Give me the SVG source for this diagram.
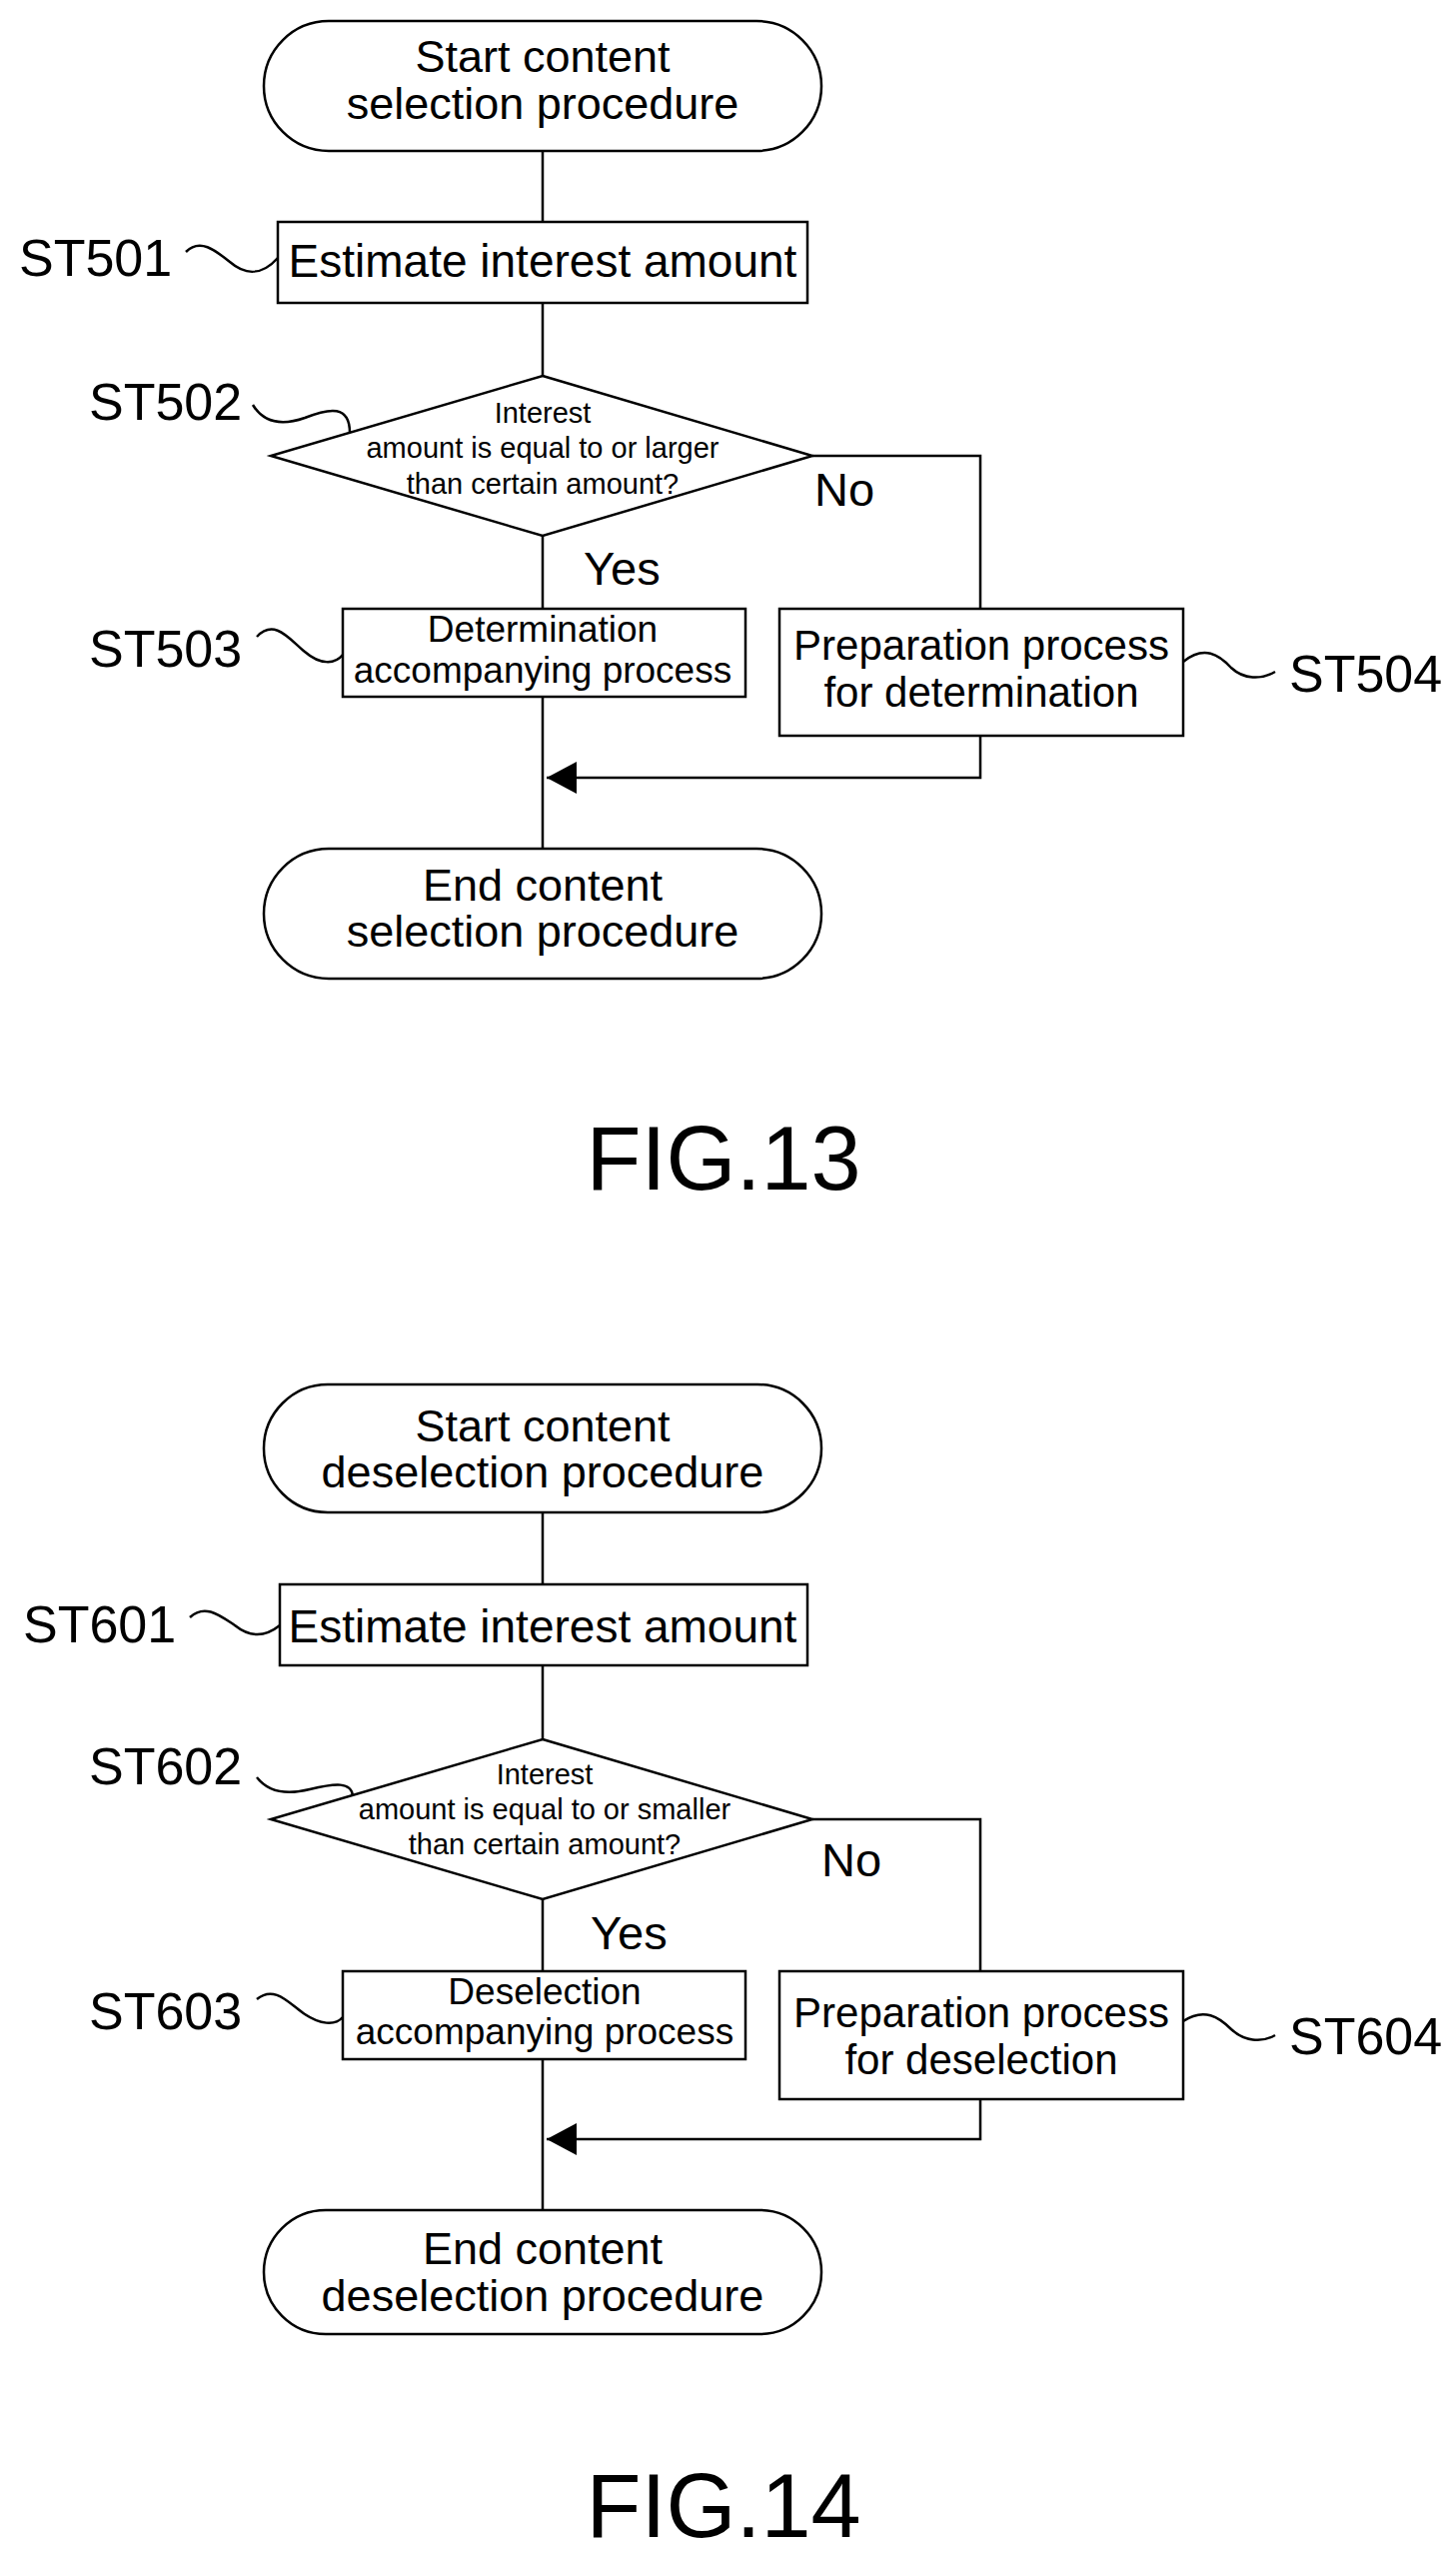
<svg xmlns="http://www.w3.org/2000/svg" width="1457" height="2560" viewBox="0 0 1457 2560">
<style>
.s{fill:none;stroke:#000;stroke-width:2.5}
.n{fill:#fff;stroke:#000;stroke-width:2.5}
text{font-family:"Liberation Sans",Arial,sans-serif;fill:#000;text-anchor:middle}
.t{font-size:45px}.b{font-size:46px}.p{font-size:42px}.a{font-size:37px}.d{font-size:29px}.l{font-size:52px;text-anchor:start}.y{font-size:47px;text-anchor:start}.f{font-size:90px}
</style>
<rect width="1457" height="2560" fill="#fff"/>
<g id="connectors">
<path class="s" d="M543,151 V222 M543,303 V376 M543,536 V609 M543,697 V849 M813,456 H981 V609 M981,736 V778 H547"/>
<path d="M547,778 L577,762 L577,794 Z" fill="#000"/>
<path class="s" d="M543,1513 V1585 M543,1666 V1740 M543,1900 V1972 M543,2060 V2211 M813,1820 H981 V1972 M981,2100 V2140 H547"/>
<path d="M547,2140 L577,2124 L577,2156 Z" fill="#000"/>
<g class="s" stroke-width="1.5">
<path d="M186,252 C200,238 215,250 230,262 C245,275 262,276 278,258"/>
<path d="M253,405 C265,425 285,425 305,418 C330,408 350,405 350,433"/>
<path d="M257,637 C275,618 290,640 305,652 C320,665 335,665 343,655"/>
<path d="M1184,662 C1205,645 1220,655 1232,668 C1245,680 1262,680 1276,672"/>
<path d="M190,1618 C205,1604 220,1616 235,1626 C250,1638 265,1638 280,1626"/>
<path d="M257,1778 C270,1795 290,1795 310,1790 C335,1784 352,1782 353,1797"/>
<path d="M257,2000 C275,1985 290,2005 305,2015 C320,2025 335,2027 343,2018"/>
<path d="M1184,2022 C1205,2008 1220,2018 1232,2030 C1245,2042 1262,2044 1276,2036"/>
</g>
</g>
<g id="start13"><rect class="n" x="264" y="21" width="558" height="130" rx="65"/><text class="t" x="543" y="72">Start content</text><text class="t" x="543" y="119">selection procedure</text></g>
<g id="st501"><rect class="n" x="278" y="222" width="530" height="81"/><text class="b" x="543" y="277">Estimate interest amount</text><text class="l" x="19" y="276">ST501</text></g>
<g id="st502"><path class="n" d="M543,376 L813,456 L543,536 L271,456 Z"/><text class="d" x="543" y="423">Interest</text><text class="d" x="543" y="458">amount is equal to or larger</text><text class="d" x="543" y="494">than certain amount?</text><text class="l" x="89" y="420">ST502</text></g>
<text class="y" x="815" y="506">No</text><text class="y" x="584" y="585">Yes</text>
<g id="st503"><rect class="n" x="343" y="609" width="403" height="88"/><text class="a" x="543" y="642">Determination</text><text class="a" x="543" y="683">accompanying process</text><text class="l" x="89" y="667">ST503</text></g>
<g id="st504"><rect class="n" x="780" y="609" width="404" height="127"/><text class="p" x="982" y="660">Preparation process</text><text class="p" x="982" y="707">for determination</text><text class="l" x="1290" y="692">ST504</text></g>
<g id="end13"><rect class="n" x="264" y="849" width="558" height="130" rx="65"/><text class="t" x="543" y="901">End content</text><text class="t" x="543" y="947">selection procedure</text></g>
<text class="f" x="724" y="1190">FIG.13</text>

<g id="start14"><rect class="n" x="264" y="1385" width="558" height="128" rx="64"/><text class="t" x="543" y="1442">Start content</text><text class="t" x="543" y="1488">deselection procedure</text></g>
<g id="st601"><rect class="n" x="280" y="1585" width="528" height="81"/><text class="b" x="543" y="1643">Estimate interest amount</text><text class="l" x="23" y="1643">ST601</text></g>
<g id="st602"><path class="n" d="M543,1740 L813,1820 L543,1900 L271,1820 Z"/><text class="d" x="545" y="1785">Interest</text><text class="d" x="545" y="1820">amount is equal to or smaller</text><text class="d" x="545" y="1855">than certain amount?</text><text class="l" x="89" y="1785">ST602</text></g>
<text class="y" x="822" y="1877">No</text><text class="y" x="591" y="1950">Yes</text>
<g id="st603"><rect class="n" x="343" y="1972" width="403" height="88"/><text class="a" x="545" y="2005">Deselection</text><text class="a" x="545" y="2045">accompanying process</text><text class="l" x="89" y="2030">ST603</text></g>
<g id="st604"><rect class="n" x="780" y="1972" width="404" height="128"/><text class="p" x="982" y="2028">Preparation process</text><text class="p" x="982" y="2075">for deselection</text><text class="l" x="1290" y="2055">ST604</text></g>
<g id="end14"><rect class="n" x="264" y="2211" width="558" height="124" rx="62"/><text class="t" x="543" y="2265">End content</text><text class="t" x="543" y="2312">deselection procedure</text></g>
<text class="f" x="724" y="2538">FIG.14</text>
</svg>
